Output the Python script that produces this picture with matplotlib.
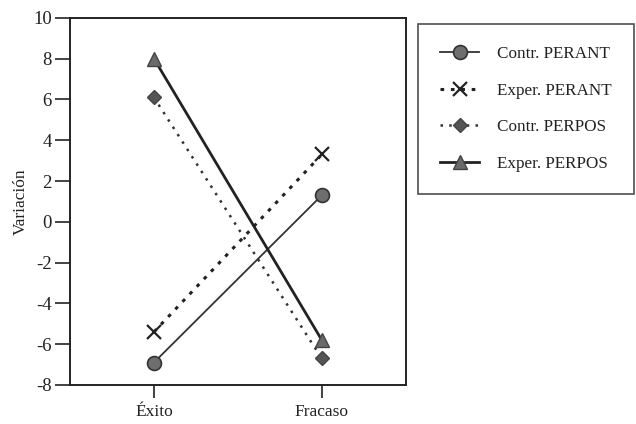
import matplotlib
matplotlib.use("Agg")
import matplotlib.pyplot as plt

categories = ["Éxito", "Fracaso"]
contr_perant = [-6.9, 1.3]
exper_perant = [-5.4, 3.3]
contr_perpos = [6.1, -6.7]
exper_perpos = [8.0, -5.8]
yticks = [10, 8, 6, 4, 2, 0, -2, -4, -6, -8]
ytick_labels = ["10", "8", "6", "4", "2", "0", "-2", "-4", "-6", "-8"]

plt.rcParams['font.family'] = ['Liberation Serif', 'DejaVu Serif']

fig = plt.figure(figsize=(6.36, 4.24), dpi=100)
ax = fig.add_axes([0.110, 0.092, 0.528, 0.866])
x = list(range(len(categories)))

ax.plot(x, contr_perant, color='#333333', lw=1.3, ls='-', marker='o', ms=10,
        mfc='#6e6e6e', mec='#333333', mew=1.2, label='Contr. PERANT')
ax.plot(x, exper_perant, color='#222222', lw=2.2, ls=(0, (1.2, 2.2)), marker='x', ms=10,
        mec='#222222', mew=1.6, label='Exper. PERANT')
ax.plot(x, contr_perpos, color='#333333', lw=1.8, ls=(0, (1, 2.5)), marker='D', ms=7,
        mfc='#555555', mec='#444444', label='Contr. PERPOS')
ax.plot(x, exper_perpos, color='#222222', lw=2.0, ls='-', marker='^', ms=10,
        mfc='#6a6a6a', mec='#444444', label='Exper. PERPOS')

ax.set_xlim(-0.5, 1.5)
ax.set_ylim(-8, 10)
ax.set_xticks(x)
ax.set_xticklabels(categories, fontsize=12.5)
ax.set_yticks(yticks)
ax.set_yticklabels(ytick_labels, fontsize=13.5)
ax.tick_params(axis='both', direction='out', width=1.2, color='#222222', labelcolor='#222222')
ax.tick_params(axis='x', length=9, pad=5)
ax.tick_params(axis='y', length=11, pad=2)
for s in ax.spines.values():
    s.set_linewidth(1.4)
    s.set_color('#222222')
ax.set_ylabel('Variación', fontsize=12.5, color='#222222', labelpad=3)

leg = fig.legend(loc='upper left', bbox_to_anchor=(0.657, 0.943), fontsize=12.3,
                 frameon=True, fancybox=False, edgecolor='#222222', handlelength=2.3,
                 labelspacing=1.2, borderpad=1.3, handletextpad=1.05, borderaxespad=0)
leg.get_frame().set_linewidth(1.2)
for t in leg.get_texts():
    t.set_color('#222222')

fig.savefig('out.png', dpi=100)
